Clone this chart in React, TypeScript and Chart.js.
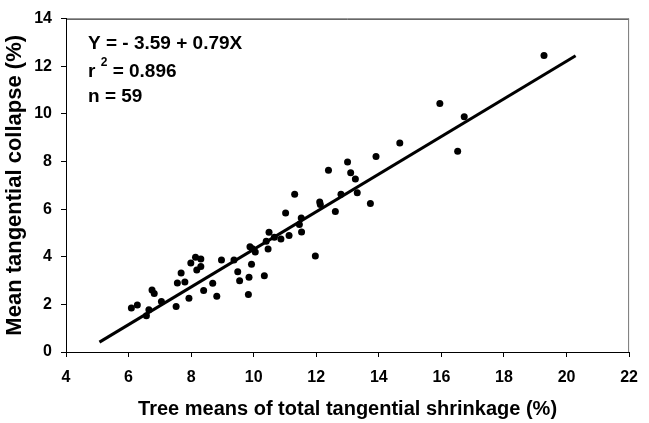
import React, { useEffect, useRef } from "react";
import { Chart, registerables } from "chart.js";
Chart.register(...registerables);

// Tree means of total tangential shrinkage (%)
const shrinkage = [
  6.09, 6.28, 6.57, 6.65, 6.75, 6.82, 7.05, 7.52, 7.56, 7.68,
  7.8, 7.93, 7.99, 8.14, 8.31, 8.18, 8.31, 8.4, 8.69, 8.82,
  8.97, 9.37, 9.49, 9.55, 9.85, 9.83, 9.93, 9.88, 10.05, 9.96,
  10.34, 10.46, 10.49, 10.4, 10.66, 10.87, 11.02, 11.13, 11.31, 11.52,
  11.46, 11.53, 11.97, 12.11, 12.13, 12.39, 12.61, 12.79, 13.0, 13.1,
  13.25, 13.31, 13.73, 13.91, 14.67, 15.95, 16.52, 16.73, 19.28,
];
// Mean tangential collapse (%)
const collapse = [
  1.85, 1.97, 1.52, 1.77, 2.6, 2.46, 2.12, 1.91, 2.9, 3.32,
  2.94, 2.26, 3.74, 3.98, 3.91, 3.44, 3.59, 2.58, 2.89, 2.34,
  3.86, 3.86, 3.37, 2.99, 3.14, 2.41, 3.69, 4.42, 4.2, 4.34,
  3.2, 4.33, 5.03, 4.65, 4.82, 4.74, 5.84, 4.89, 6.62, 5.63,
  5.35, 5.04, 4.03, 6.3, 6.19, 7.63, 5.9, 6.62, 7.98, 7.53,
  7.26, 6.69, 6.24, 8.21, 8.78, 10.44, 8.43, 9.88, 12.45,
];

const INTERCEPT = -3.59;
const SLOPE = 0.79;
const FIT_RANGE = [5.07, 20.29];

const X_TITLE = "Tree means of total tangential shrinkage (%)";
const Y_TITLE = "Mean tangential collapse (%)";
const EQ_LINE = "Y = - 3.59 + 0.79X";
const R2_VALUE = "0.896";
const N_VALUE = "n = 59";

const FONT = "'Liberation Sans', Arial, sans-serif";

const framePlugin = {
  id: "frameAndText",
  afterDraw(chart: any) {
    const { ctx, chartArea } = chart;
    const { left, right, top, bottom } = chartArea;
    ctx.save();
    ctx.lineWidth = 1;
    ctx.strokeStyle = "#000";
    ctx.beginPath();
    ctx.moveTo(left, top + 0.5);
    ctx.lineTo(right, top + 0.5);
    ctx.stroke();
    ctx.strokeStyle = "#777";
    ctx.beginPath();
    ctx.moveTo(right - 0.5, top);
    ctx.lineTo(right - 0.5, bottom);
    ctx.stroke();

    ctx.fillStyle = "#000";
    ctx.textBaseline = "middle";
    ctx.textAlign = "left";
    const tx = left + 22;
    ctx.font = `bold 19px ${FONT}`;
    ctx.fillText(EQ_LINE, tx, top + 25);
    ctx.fillText("r", tx, top + 53);
    const rw = ctx.measureText("r ").width;
    ctx.font = `bold 12px ${FONT}`;
    ctx.fillText("2", tx + rw, top + 44);
    const w2 = ctx.measureText("2").width;
    ctx.font = `bold 19px ${FONT}`;
    ctx.fillText(" = " + R2_VALUE, tx + rw + w2, top + 53);
    ctx.fillText(N_VALUE, tx, top + 78);
    ctx.restore();
  },
};

export default function App() {
  const ref = useRef<HTMLCanvasElement | null>(null);
  useEffect(() => {
    if (!ref.current) return;
    const points = shrinkage.map((x, i) => ({ x, y: collapse[i] }));
    const fit = FIT_RANGE.map((x) => ({ x, y: INTERCEPT + SLOPE * x }));
    const chart = new Chart(ref.current, {
      type: "scatter",
      data: {
        datasets: [
          {
            type: "line",
            data: fit,
            borderColor: "#000",
            borderWidth: 3,
            pointRadius: 0,
            showLine: true,
            fill: false,
          } as any,
          {
            data: points,
            backgroundColor: "#000",
            borderColor: "#000",
            borderWidth: 0,
            pointRadius: 3.5,
          },
        ],
      },
      options: {
        animation: false,
        responsive: false,
        devicePixelRatio: 1,
        layout: { padding: { top: 15, right: 9, left: 0, bottom: 0 } },
        plugins: { legend: { display: false }, tooltip: { enabled: false } },
        scales: {
          x: {
            type: "linear",
            min: 4,
            max: 22,
            ticks: {
              stepSize: 2,
              color: "#000",
              font: { family: FONT, size: 16, weight: "bold" },
              padding: 11,
            },
            grid: { drawOnChartArea: false, tickLength: 5, color: "#000" },
            border: { color: "#000", width: 1 },
            title: {
              display: true,
              text: X_TITLE,
              color: "#000",
              font: { family: FONT, size: 20, weight: "bold" },
              padding: { top: 0, bottom: 2 },
            },
            afterFit: (s: any) => {
              s.height = 71;
            },
          },
          y: {
            type: "linear",
            min: 0,
            max: 14,
            ticks: {
              stepSize: 2,
              color: "#000",
              font: { family: FONT, size: 16, weight: "bold" },
              padding: 9,
            },
            grid: { drawOnChartArea: false, tickLength: 5, color: "#000" },
            border: { color: "#000", width: 1 },
            title: {
              display: true,
              text: Y_TITLE,
              color: "#000",
              font: { family: FONT, size: 22, weight: "bold" },
              padding: { top: 2, bottom: 0 },
            },
            afterFit: (s: any) => {
              s.width = 66;
            },
          },
        },
      } as any,
      plugins: [framePlugin],
    });
    return () => chart.destroy();
  }, []);
  return (
    <div
      style={{
        position: "fixed",
        left: 0,
        top: 0,
        width: 649,
        height: 423,
        background: "#fff",
      }}
    >
      <canvas ref={ref} width={649} height={423} />
    </div>
  );
}
